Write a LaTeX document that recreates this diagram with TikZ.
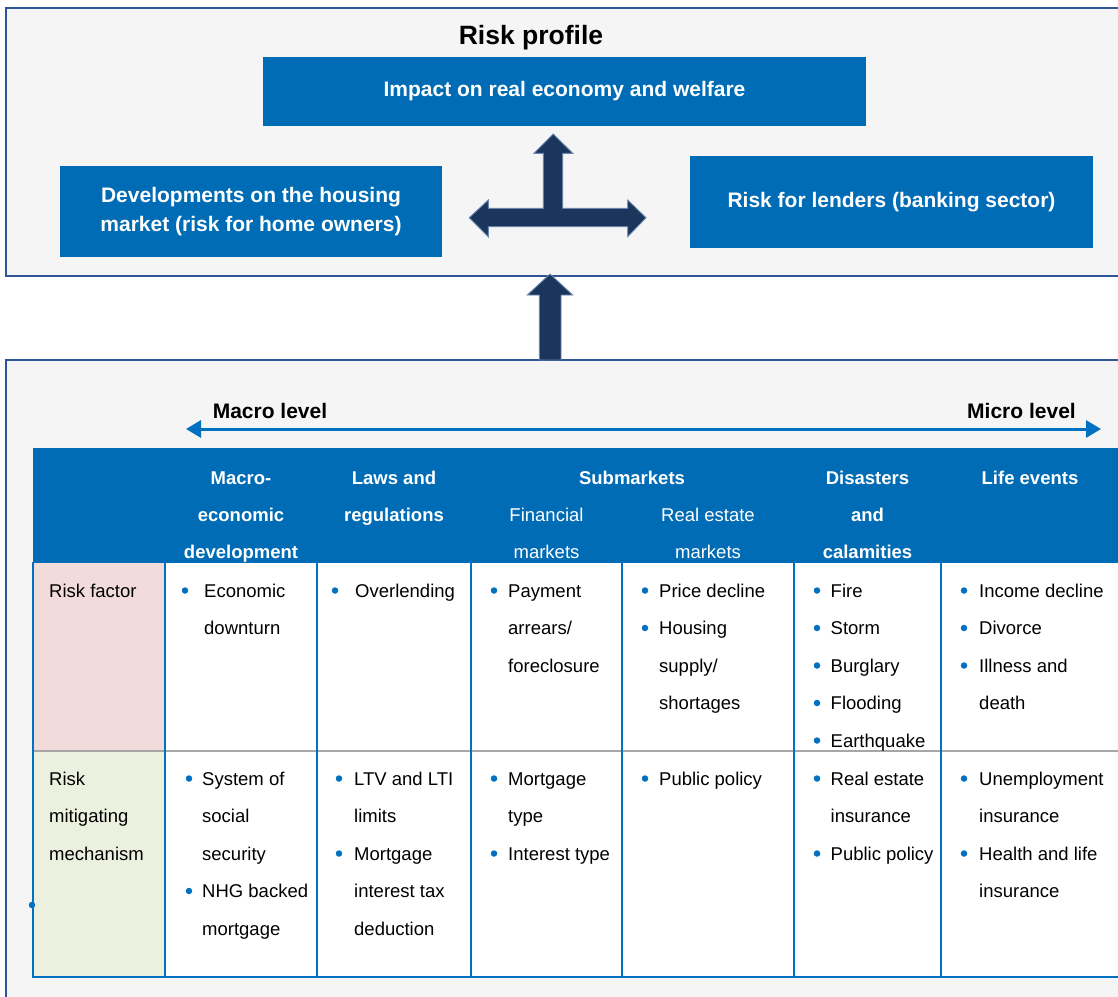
\documentclass[tikz,border=0pt]{standalone}
\usepackage{fontspec}
\setmainfont{Liberation Sans}
\usetikzlibrary{arrows.meta}

\definecolor{boxblue}{HTML}{006CB6}
\definecolor{lineblue}{HTML}{0070C0}
\definecolor{navy}{HTML}{1B365D}
\definecolor{navyedge}{HTML}{6A86AE}
\definecolor{panelfill}{HTML}{F5F5F5}
\definecolor{panelline}{HTML}{2F5597}
\definecolor{divgray}{HTML}{A6A6A6}
\definecolor{riskpink}{HTML}{F2DCDB}
\definecolor{mitgreen}{HTML}{EBF1DE}

% stacked lines, baseline at the first line
\newcommand{\lines}[1]{\begin{tabular}[t]{@{}l@{}}#1\end{tabular}}
\newcommand{\clines}[1]{\begin{tabular}[t]{@{}c@{}}#1\end{tabular}}

% bulleted entry: name, bullet x, text x, first baseline, lines
\newcommand{\bitem}[5]{%
  \node[dot] (#1b) at (#2,#4-6.5) {};
  \node[body, anchor=base west] (#1) at (#3,#4) {\lines{#5}};}

\begin{document}
\begin{tikzpicture}[x=1pt, y=-1pt,
  panel/.style={fill=panelfill, draw=panelline, line width=2pt},
  bluebox/.style={fill=boxblue, text=white, align=center, inner sep=0pt,
    font=\bfseries\fontsize{21}{29}\selectfont},
  title/.style={font=\bfseries\fontsize{26.5}{30}\selectfont, inner sep=0pt, anchor=base},
  level/.style={font=\bfseries\fontsize{21}{25}\selectfont, inner sep=0pt, anchor=base},
  body/.style={font=\fontsize{18.5}{37.5}\selectfont, inner sep=0pt, text=black},
  head/.style={font=\bfseries\fontsize{18.5}{37}\selectfont, inner sep=0pt, text=white, anchor=base},
  headlight/.style={font=\fontsize{18.5}{37}\selectfont, inner sep=0pt, text=white, anchor=base},
  dot/.style={circle, fill=lineblue, inner sep=0pt, minimum size=6.5pt},
  fatarrow/.style={fill=navy, draw=navyedge, line width=0.9pt, line join=miter},
  levelarrow/.style={draw=lineblue, line width=3pt,
    {Triangle[length=15pt, width=17pt]}-{Triangle[length=15pt, width=17pt]}},
  tline/.style={draw=lineblue, line width=2pt},
]
\useasboundingbox (0,0) rectangle (1118,996);

% ---------- upper panel: risk profile ----------
\draw[panel] (6,8) rectangle (1135,276);
\node[title] (profile) at (531,44.5) {Risk profile};

\node[bluebox, minimum width=603pt, minimum height=69pt] (impact) at (564.5,91.5)
  {Impact on real economy and welfare};
\node[bluebox, minimum width=382pt, minimum height=91pt] (housing) at (251,211.5)
  {Developments on the housing\\market (risk for home owners)};
\node[bluebox, minimum width=403pt, minimum height=92pt] (lenders) at (891.5,202)
  {Risk for lenders (banking sector)};

% three-way block arrow between the boxes
\coordinate (hub) at (553.3,217.5);
\draw[fatarrow]
  (469.3,217.7) -- (488.3,200) -- (488.3,208.3) -- (543.3,208.3) -- (543.3,153.3)
  -- (534,153.3) -- (553.3,134) -- (572.7,153.3) -- (562.7,153.3) -- (562.7,208.3)
  -- (627.7,208.3) -- (627.7,200) -- (646,217.7) -- (627.7,236.7) -- (627.7,226.7)
  -- (488.3,226.7) -- (488.3,236.7) -- cycle;

% ---------- lower panel ----------
\draw[panel] (6,360) rectangle (1135,1015);

% block arrow from the lower panel up to the risk profile
\draw[fatarrow]
  (539.3,360) -- (539.3,295) -- (527.3,295) -- (550,274) -- (572.7,295)
  -- (561,295) -- (561,360) -- cycle;

% macro / micro scale
\node[level] (macro) at (270,418.5) {Macro level};
\node[level] (micro) at (1021.5,418.5) {Micro level};
\coordinate (scaleL) at (186,429);
\coordinate (scaleR) at (1101,429);
\draw[levelarrow] (scaleL) -- (scaleR);

% ---------- table ----------
\fill[boxblue] (33,448) rectangle (1125,563);
\fill[riskpink] (33,563) rectangle (165,751);
\fill[mitgreen] (33,751) rectangle (165,977);
\fill[white] (165,563) rectangle (1125,977);
\node[dot] (stray) at (32,905) {};

% header
\node[head] (h2) at (241,484) {\clines{Macro-\\economic\\development}};
\node[head] (h3) at (394,484) {\clines{Laws and\\regulations}};
\node[head] (h4) at (632,484) {Submarkets};
\node[headlight] (h4a) at (546.5,521) {\clines{Financial\\markets}};
\node[headlight] (h4b) at (708,521) {\clines{Real estate\\markets}};
\node[head] (h6) at (867.5,484) {\clines{Disasters\\and\\calamities}};
\node[head] (h7) at (1030,484) {Life events};

% grid
\draw[divgray, line width=2pt] (33,751) -- (1125,751);
\foreach \cx in {165,317,471,622,794,941}
  \draw[tline] (\cx,563) -- (\cx,977);
\draw[tline] (33,562) -- (33,977) -- (1125,977);

% row labels
\node[body, anchor=base west] (lab1) at (49,597) {Risk factor};
\node[body, anchor=base west] (lab2) at (49,785) {\lines{Risk\\mitigating\\mechanism}};

% risk factors
\bitem{a2}{185}{204}{597}{Economic\\downturn}
\bitem{a3}{335}{355}{597}{Overlending}
\bitem{a4}{494}{508}{597}{Payment\\arrears/\\foreclosure}
\bitem{a5}{645}{659}{597}{Price decline}
\bitem{a5x}{645}{659}{634.5}{Housing\\supply/\\shortages}
\bitem{a6}{817}{830.5}{597}{Fire}
\bitem{a6x}{817}{830.5}{634.5}{Storm}
\bitem{a6y}{817}{830.5}{672}{Burglary}
\bitem{a6z}{817}{830.5}{709.5}{Flooding}
\bitem{a6w}{817}{830.5}{747}{Earthquake}
\bitem{a7}{964}{979}{597}{Income decline}
\bitem{a7x}{964}{979}{634.5}{Divorce}
\bitem{a7y}{964}{979}{672}{Illness and\\death}

% mitigating mechanisms
\bitem{m2}{189}{202}{785}{System of\\social\\security}
\bitem{m2x}{189}{202}{897.5}{NHG backed\\mortgage}
\bitem{m3}{339}{354}{785}{LTV and LTI\\limits}
\bitem{m3x}{339}{354}{860}{Mortgage\\interest tax\\deduction}
\bitem{m4}{494}{508}{785}{Mortgage\\type}
\bitem{m4x}{494}{508}{860}{Interest type}
\bitem{m5}{645}{659}{785}{Public policy}
\bitem{m6}{817}{830.5}{785}{Real estate\\insurance}
\bitem{m6x}{817}{830.5}{860}{Public policy}
\bitem{m7}{964}{979}{785}{Unemployment\\insurance}
\bitem{m7x}{964}{979}{860}{Health and life\\insurance}
\end{tikzpicture}
\end{document}
